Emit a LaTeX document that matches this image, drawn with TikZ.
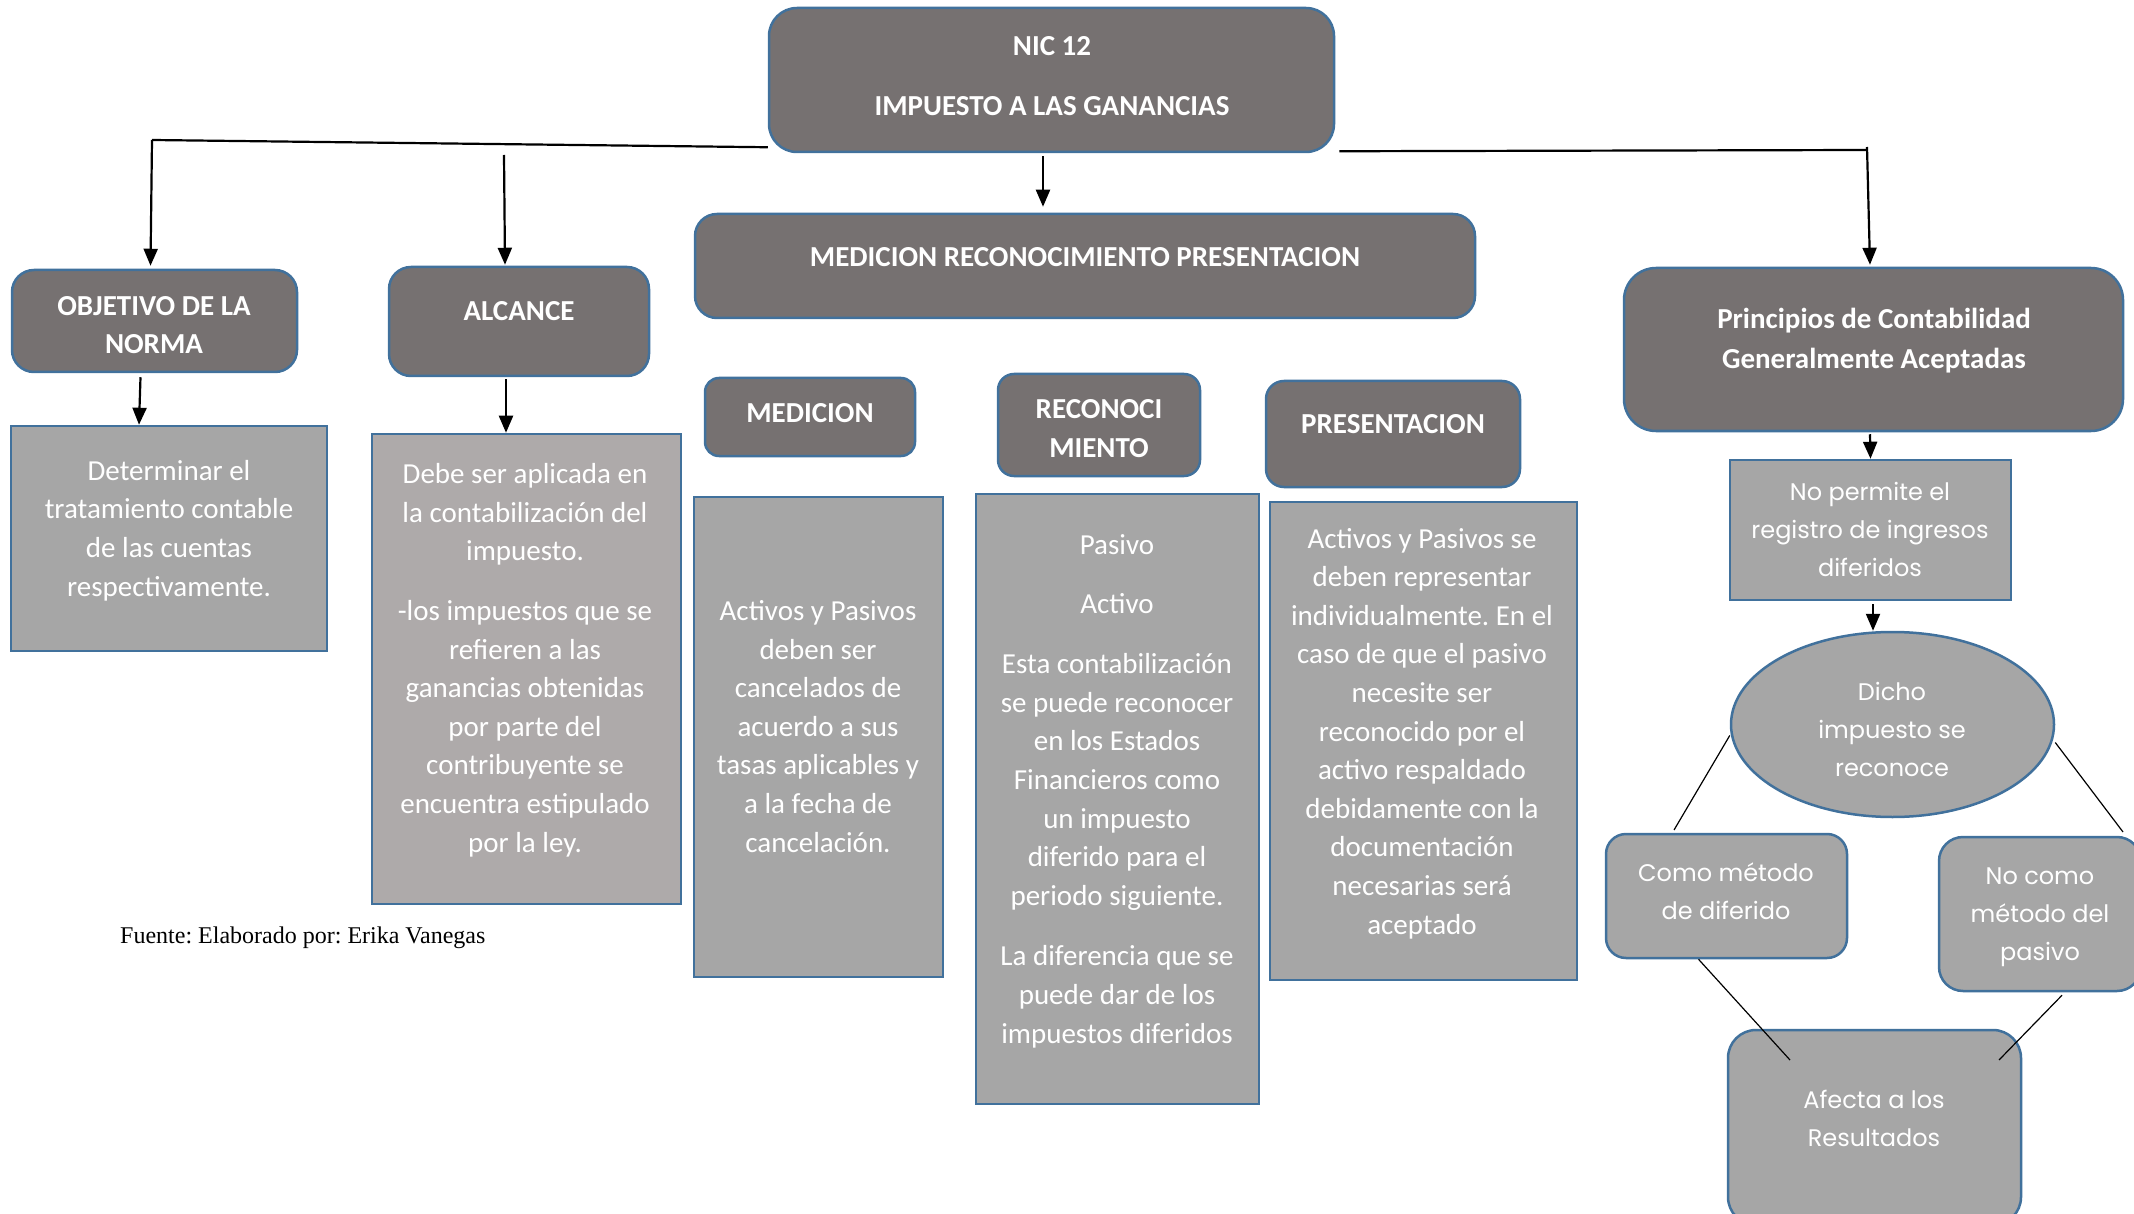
\documentclass[tikz,border=0pt]{standalone}
\usepackage{fontspec}
\setmainfont{Carlito}
\newfontfamily\gothic{Poppins}
\newfontfamily\timesf{Liberation Serif}
\usetikzlibrary{arrows.meta,shapes.geometric}
\definecolor{darkfill}{HTML}{767171}
\definecolor{lightfill}{HTML}{A6A6A6}
\definecolor{pinkfill}{HTML}{AEAAAA}
\definecolor{bord}{HTML}{41719C}
\begin{document}
\frenchspacing
\begin{tikzpicture}[x=1pt,y=-1pt,
  box/.style={draw=bord, line width=2.5pt, inner sep=0pt},
  darkbox/.style={box, fill=darkfill, rounded corners=#1},
  darkbox/.default=22pt,
  lightbox/.style={box, fill=lightfill},
  lightrnd/.style={box, fill=lightfill, rounded corners=#1},
  sz/.style 2 args={minimum width=#1pt, minimum height=#2pt},
  ttl/.style={font=\bfseries\fontsize{29}{38.6}\selectfont, text=white, align=center, anchor=base, inner sep=0pt, yshift=-3pt},
  body/.style={font=\fontsize{29}{38.6}\selectfont, text=white, align=center, anchor=base, inner sep=0pt, yshift=-3pt},
  goth/.style={font=\gothic\fontsize{24}{38}\selectfont, text=white, align=center, anchor=base, inner sep=0pt, yshift=-2pt},
  ln/.style={line width=2.2pt, draw=black},
  conn/.style={line width=2.2pt, draw=black, -{Triangle[length=17pt,width=14pt]}},
  hairline/.style={line width=1.2pt, draw=black}
]
\fill[white] (0,0) rectangle (2134,1214);
\useasboundingbox (0,0) rectangle (2134,1214);

% dark title boxes (text nodes anchored at the baseline of their last line)
\node[darkbox=28pt, sz={565}{144}] (nic) at (1051.5,80) {};
\node[ttl] (nict) at (1052,113) {NIC 12\\[21.4pt]IMPUESTO A LAS GANANCIAS};
\node[darkbox, sz={285}{102}] (obj) at (154.5,321) {};
\node[ttl] (objt) at (154,351) {OBJETIVO DE LA\\NORMA};
\node[darkbox, sz={260}{109}] (alc) at (519,321.5) {};
\node[ttl] (alct) at (519,318) {ALCANCE};
\node[darkbox, sz={780}{104}] (mrp) at (1085,266) {};
\node[ttl] (mrpt) at (1085,264) {MEDICION RECONOCIMIENTO PRESENTACION};
\node[darkbox=14pt, sz={210}{78}] (med) at (810,417) {};
\node[ttl] (medt) at (810,419) {MEDICION};
\node[darkbox=16pt, sz={202}{102}] (rec) at (1099,425) {};
\node[ttl] (rect) at (1099,454) {RECONOCI\\MIENTO};
\node[darkbox=18pt, sz={254}{106}] (pres) at (1393,434) {};
\node[ttl] (prest) at (1393,431) {PRESENTACION};
\node[darkbox=32pt, sz={499}{163}] (prin) at (1873.5,349.5) {};
\node[ttl] (print) at (1874,366) {Principios de Contabilidad\\[1.4pt]Generalmente Aceptadas};

% text boxes
\node[lightbox, sz={316}{225}] (det) at (169,538.5) {};
\node[body] (dett) at (169,593) {Determinar el\\tratamiento contable\\de las cuentas\\respectivamente.};
\node[box, fill=pinkfill, sz={309}{470}] (deb) at (526.5,669) {};
\node[body] (debt) at (525,849) {Debe ser aplicada en\\la contabilización del\\impuesto.\\[21pt]-los impuestos que se\\refieren a las\\ganancias obtenidas\\por parte del\\contribuyente se\\encuentra estipulado\\por la ley.};
\node[lightbox, sz={249}{480}] (tmed) at (818.5,737) {};
\node[body] (tmedt) at (818,849) {Activos y Pasivos\\deben ser\\cancelados de\\acuerdo a sus\\tasas aplicables y\\a la fecha de\\cancelación.};
\node[lightbox, sz={283}{610}] (trec) at (1117.5,799) {};
\node[body] (trect) at (1117,1040) {Pasivo\\[20pt]Activo\\[22pt]Esta contabilización\\se puede reconocer\\en los Estados\\Financieros como\\un impuesto\\diferido para el\\periodo siguiente.\\[22pt]La diferencia que se\\puede dar de los\\impuestos diferidos};
\node[lightbox, sz={307}{478}] (tpres) at (1423.5,741) {};
\node[body] (tprest) at (1422,931) {Activos y Pasivos se\\deben representar\\individualmente. En el\\caso de que el pasivo\\necesite ser\\reconocido por el\\activo respaldado\\debidamente con la\\documentación\\necesarias será\\aceptado};

% right flow
\node[lightbox, sz={281}{140}] (nop) at (1870.5,530) {};
\node[goth] (nopt) at (1870,574) {No permite el\\registro de ingresos\\diferidos};
\node[ellipse, box, fill=lightfill, sz={323}{185}] (dicho) at (1892.5,724.5) {};
\node[goth] (dichot) at (1892,774) {Dicho\\impuesto se\\reconoce};
\node[lightrnd=20pt, sz={241}{124}] (como) at (1726.5,896) {};
\node[goth] (comot) at (1726,917) {Como método\\de diferido};
\node[lightrnd=24pt, sz={202}{154}] (nocomo) at (2040,914) {};
\node[goth] (nocomot) at (2040,958) {No como\\método del\\pasivo};
\node[lightrnd=28pt, sz={293}{195}] (afe) at (1874.5,1127.5) {};
\node[goth] (afet) at (1874,1144) {Afecta a los\\Resultados};

% source
\node[font=\timesf\fontsize{24}{28}\selectfont, anchor=base west, inner sep=0pt] (src) at (120,943) {Fuente: Elaborado por: Erika Vanegas};

% connectors
\coordinate (jL) at (152,140);
\coordinate (jA) at (504,155);
\coordinate (jR) at (1867,150);
\draw[ln] ([yshift=6pt]nic.south west) -- (jL);
\draw[conn] (jL) -- ([xshift=-4pt,yshift=3pt]obj.north);
\draw[conn] (jA) -- ([xshift=-14pt,yshift=1pt]alc.north);
\draw[conn] ([shift={(-8.5pt,-3pt)}]nic.south) -- ([shift={(-42pt,6pt)}]mrp.north);
\draw[ln] ([shift={(4pt,2pt)}]nic.south east) -- (jR);
\draw[conn] ([yshift=3pt]jR) -- ([xshift=-3.5pt,yshift=2pt]prin.north);
\draw[conn] ([xshift=-14pt,yshift=-4pt]obj.south) -- ([xshift=-30pt]det.north);
\draw[conn] ([xshift=-13pt,yshift=-2pt]alc.south) -- ([xshift=-20.5pt]deb.north);
\draw[conn] ([xshift=-3.5pt,yshift=-2pt]prin.south) -- (nop.north);
\draw[conn] ([xshift=2.5pt,yshift=-3pt]nop.south) -- ([xshift=-19.5pt]dicho.north);

\coordinate (c1) at (1674,830);
\coordinate (c2) at (2123,832);
\coordinate (c3) at (1790,1060);
\coordinate (c4) at (1999,1060);
\draw[hairline] ([yshift=-11pt]dicho.west) -- (c1);
\draw[hairline] ([yshift=-18pt]dicho.east) -- (c2);
\draw[hairline] ([xshift=-28pt]como.south) -- (c3);
\draw[hairline] ([xshift=22pt,yshift=-3pt]nocomo.south) -- (c4);
\end{tikzpicture}
\end{document}
